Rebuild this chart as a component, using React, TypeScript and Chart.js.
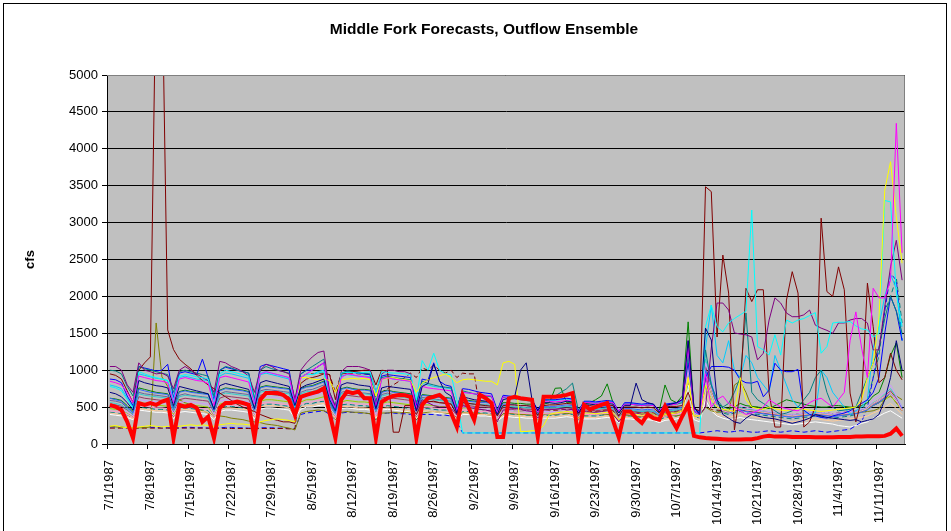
import React, { useEffect, useRef } from 'react';
import { Chart, registerables } from 'chart.js';

Chart.register(...registerables);

const FONT = "'Liberation Sans', Arial, sans-serif";
const TITLE = 'Middle Fork Forecasts, Outflow Ensemble';

// 138 daily categories, 7/1/1987 .. 11/15/1987
const dates: string[] = (() => {
  const out: string[] = [];
  const d = new Date(Date.UTC(1987, 6, 1));
  for (let i = 0; i < 138; i++) {
    out.push(`${d.getUTCMonth() + 1}/${d.getUTCDate()}/${d.getUTCFullYear()}`);
    d.setUTCDate(d.getUTCDate() + 1);
  }
  return out;
})();

const yTicks = [0, 500, 1000, 1500, 2000, 2500, 3000, 3500, 4000, 4500, 5000];

const observed = [
  530, 505, 460, 300, 80, 555, 530,
  555, 530, 575, 600, 80, 530, 505,
  530, 490, 300, 370, 80, 490, 555,
  555, 575, 555, 530, 80, 600, 690,
  690, 690, 665, 600, 390, 640, 665,
  690, 710, 755, 420, 80, 600, 710,
  690, 710, 620, 620, 80, 570, 620,
  650, 665, 660, 640, 80, 530, 620,
  640, 665, 600, 420, 230, 665, 500,
  325, 665, 620, 555, 95, 95, 620,
  640, 620, 610, 600, 95, 640, 640,
  640, 650, 665, 690, 80, 530, 470,
  500, 530, 555, 320, 90, 440, 440,
  350, 285, 400, 350, 330, 510, 350,
  215, 380, 530, 110, 90, 80, 75,
  70, 65, 60, 60, 60, 65, 65,
  80, 100, 110, 100, 100, 100, 95,
  95, 95, 95, 90, 90, 90, 90,
  95, 95, 95, 100, 100, 105, 105,
  105, 110, 140, 210, 110,
];

const navySeries = [
  700, 680, 640, 560, 460, 860, 830,
  810, 790, 780, 760, 520, 780, 760,
  740, 720, 700, 680, 470, 790, 820,
  800, 780, 760, 740, 480, 830, 860,
  840, 820, 800, 780, 520, 760, 800,
  820, 850, 880, 600, 450, 800, 830,
  820, 800, 790, 780, 480, 760, 780,
  770, 760, 750, 740, 450, 780, 820,
  1080, 860, 700, 650, 420, 640, 620,
  600, 590, 580, 560, 400, 600, 620,
  640, 1000, 1100, 600, 450, 560, 560,
  550, 560, 580, 570, 420, 540, 540,
  530, 540, 550, 540, 420, 520, 520,
  825, 600, 560, 540, 430, 520, 540,
  560, 600, 1400, 500, 400, 1570, 1410,
  600, 400, 350, 300, 280, 350, 400,
  380, 360, 350, 340, 320, 300, 280,
  300, 320, 350, 400, 380, 360, 350,
  340, 330, 320, 330, 300, 320, 340,
  400, 600, 900, 1400, 1000,
];

const magentaSeries = [
  850, 830, 800, 700, 560, 920, 900,
  880, 860, 850, 830, 560, 880, 900,
  880, 860, 850, 820, 520, 900, 920,
  900, 880, 860, 840, 540, 950, 980,
  960, 940, 920, 900, 560, 900, 950,
  1000, 1050, 1100, 650, 480, 900, 950,
  940, 920, 910, 900, 500, 880, 900,
  880, 870, 860, 850, 480, 780, 760,
  750, 740, 730, 720, 450, 700, 690,
  680, 670, 660, 650, 420, 640, 630,
  620, 610, 600, 600, 430, 580, 580,
  570, 580, 590, 580, 430, 560, 560,
  550, 560, 570, 560, 440, 540, 540,
  530, 520, 530, 520, 450, 520, 530,
  540, 600, 1300, 450, 400, 950, 500,
  600, 650, 550, 500, 450, 400, 420,
  450, 500, 600, 550, 500, 480, 460,
  450, 500, 560, 600, 620, 560, 500,
  600, 700, 1400, 1790, 1300, 900, 2110,
  1980, 1980, 2220, 4345, 2590,
];

const yellowSeries = [
  240, 250, 230, 220, 220, 230, 240,
  250, 240, 230, 240, 230, 240, 250,
  260, 250, 260, 250, 240, 260, 270,
  280, 270, 270, 260, 250, 300, 320,
  330, 340, 330, 320, 300, 900, 900,
  880, 870, 880, 860, 700, 870, 880,
  890, 880, 890, 870, 650, 880, 890,
  900, 880, 870, 860, 700, 820, 870,
  900, 920, 950, 900, 830, 870, 880,
  870, 860, 850, 850, 800, 1100, 1120,
  1080, 170, 170, 180, 180, 250, 400,
  420, 430, 440, 430, 350, 420, 420,
  410, 420, 430, 420, 330, 410, 410,
  400, 390, 400, 390, 350, 400, 410,
  420, 450, 900, 380, 380, 800, 600,
  500, 470, 460, 440, 900, 600, 500,
  480, 470, 500, 480, 460, 450, 470,
  480, 470, 460, 450, 440, 450, 460,
  470, 480, 490, 500, 600, 900, 1100,
  1700, 3440, 3825, 3080, 2450,
];

const cyanSeries = [
  780, 760, 720, 600, 480, 980, 950,
  920, 900, 880, 860, 600, 920, 940,
  930, 910, 900, 880, 560, 950, 1000,
  980, 960, 940, 920, 560, 960, 980,
  960, 940, 920, 900, 500, 900, 950,
  940, 960, 980, 620, 450, 960, 970,
  970, 960, 970, 980, 700, 980, 970,
  960, 960, 950, 940, 600, 1130, 1000,
  1230, 1000, 950, 940, 600, 150, 150,
  150, 150, 150, 150, 150, 150, 150,
  150, 150, 150, 150, 150, 150, 150,
  150, 150, 150, 150, 150, 150, 150,
  150, 150, 150, 150, 150, 150, 150,
  150, 150, 150, 150, 150, 150, 150,
  150, 150, 150, 150, 150, 1590, 1880,
  1590, 1520, 1640, 1700, 1750, 1800, 3170,
  1320, 1275, 1205, 1480, 1205, 1680, 1640,
  1680, 1700, 1740, 1780, 1230, 1320, 1640,
  1650, 1650, 1660, 1600, 1560, 1545, 1450,
  1500, 3300, 3280, 2045, 1590,
];

const purpleSeries = [
  1050, 1050, 1000, 800, 700, 1100, 1000,
  980, 950, 960, 920, 750, 1000, 1050,
  1000, 950, 900, 860, 700, 1120, 1100,
  1050, 1020, 980, 920, 700, 1000, 1080,
  1050, 1000, 980, 950, 600, 1000, 1100,
  1180, 1240, 1260, 700, 500, 980, 1050,
  1050, 1050, 1030, 1000, 700, 950, 1000,
  1000, 980, 980, 950, 450, 600, 560,
  520, 500, 500, 480, 400, 520, 500,
  480, 470, 460, 440, 300, 460, 470,
  480, 470, 450, 440, 350, 460, 470,
  470, 480, 460, 470, 350, 440, 430,
  430, 440, 450, 420, 300, 400, 410,
  420, 400, 410, 390, 350, 400, 410,
  420, 450, 1400, 500, 400, 500, 1300,
  1910, 1910, 1815, 1505, 1490, 1480, 1450,
  1140, 1230, 1680, 1980, 1910, 1775, 1725,
  1725, 1750, 1815, 1610, 1570, 1540, 1500,
  1640, 1640, 1680, 1700, 1700, 1640, 1275,
  1275, 1860, 2400, 2760, 2220,
];

const maroonSeries = [
  950, 930, 880, 720, 560, 1000, 1100,
  1180, 6500, 6500, 1545, 1280, 1150, 1080,
  1020, 930, 860, 800, 750, 690, 640,
  590, 540, 500, 470, 440, 400, 370,
  340, 320, 300, 300, 280, 820, 880,
  900, 920, 950, 940, 600, 950, 960,
  980, 990, 1000, 1000, 800, 1000, 990,
  160, 160, 520, 520, 400, 560, 570,
  580, 560, 550, 540, 400, 560, 550,
  540, 530, 520, 510, 380, 520, 530,
  530, 520, 520, 510, 390, 520, 530,
  530, 540, 550, 540, 400, 520, 520,
  510, 520, 530, 520, 380, 500, 500,
  500, 490, 500, 490, 420, 500, 510,
  510, 520, 700, 480, 450, 3485, 3420,
  1450, 2560, 2045, 190, 700, 2110, 1930,
  2090, 2090, 690, 230, 230, 1950, 2335,
  2045, 230, 300, 500, 3060, 2065, 2000,
  2400, 2090, 690, 300, 600, 2180, 1590,
  830, 900, 1230, 1000, 870,
];

const tealSeries = [
  1000, 990, 950, 780, 650, 1050, 1020,
  1000, 980, 960, 940, 700, 980, 1000,
  980, 960, 940, 920, 650, 1000, 1050,
  1030, 1000, 980, 960, 620, 1000, 1050,
  1020, 1000, 980, 960, 600, 950, 1000,
  1050, 1100, 1150, 700, 520, 960, 990,
  980, 970, 960, 950, 560, 900, 920,
  900, 890, 880, 870, 560, 850, 820,
  800, 780, 770, 760, 500, 720, 700,
  680, 660, 650, 640, 450, 630, 620,
  610, 600, 590, 580, 440, 580, 600,
  650, 700, 750, 825, 460, 560, 560,
  550, 560, 570, 560, 420, 540, 540,
  530, 520, 530, 520, 440, 520, 530,
  540, 560, 1200, 450, 400, 1275, 800,
  600, 500, 550, 700, 900, 1775, 700,
  600, 550, 500, 450, 400, 420, 450,
  500, 600, 700, 900, 1000, 700, 500,
  450, 460, 470, 500, 700, 900, 1100,
  1300, 1700, 2000, 1800, 1500,
];

const blueSeries = [
  880, 870, 830, 650, 520, 1050, 1030,
  1010, 990, 1000, 1080, 620, 960, 980,
  960, 940, 1150, 900, 600, 1000, 1040,
  1020, 1000, 980, 960, 580, 1050, 1080,
  1060, 1040, 1020, 1000, 550, 950, 1000,
  1000, 1050, 1100, 650, 480, 950, 980,
  970, 960, 950, 940, 520, 920, 940,
  930, 920, 910, 900, 520, 880, 860,
  1100, 850, 800, 780, 480, 750, 740,
  720, 700, 690, 680, 460, 660, 650,
  640, 620, 610, 600, 460, 600, 600,
  600, 610, 620, 610, 450, 580, 580,
  570, 580, 590, 580, 440, 560, 560,
  550, 540, 550, 540, 450, 540, 550,
  560, 600, 1100, 500, 420, 900, 1050,
  1050, 1050, 1040, 1000, 870, 830, 825,
  850, 640, 730, 1095, 1000, 980, 980,
  1010, 460, 400, 380, 360, 350, 380,
  400, 420, 450, 500, 550, 600, 700,
  900, 1500, 2000, 1800, 1400,
];

const skySeries = [
  800, 780, 750, 620, 500, 950, 930,
  910, 890, 880, 860, 580, 900, 920,
  900, 880, 870, 860, 560, 920, 960,
  950, 930, 910, 890, 560, 940, 960,
  940, 920, 900, 880, 540, 900, 950,
  940, 980, 1000, 620, 460, 920, 940,
  930, 920, 920, 910, 520, 880, 900,
  880, 870, 860, 850, 520, 820, 800,
  780, 770, 760, 750, 480, 700, 690,
  680, 670, 660, 650, 450, 640, 640,
  630, 620, 610, 600, 450, 590, 590,
  590, 600, 610, 600, 440, 570, 570,
  560, 570, 580, 570, 430, 550, 550,
  540, 530, 540, 530, 440, 530, 540,
  550, 580, 1250, 460, 420, 1300, 1880,
  1200, 1100, 1400, 1000, 900, 1200, 1100,
  900, 800, 700, 1200, 1000, 800, 600,
  500, 450, 400, 420, 1000, 900, 700,
  600, 500, 400, 450, 500, 600, 1300,
  1600, 2000, 2300, 2100, 1400,
];

const lavenderSeries = [
  500, 490, 470, 430, 380, 600, 590,
  580, 570, 560, 550, 420, 560, 580,
  570, 560, 550, 540, 400, 580, 600,
  600, 590, 580, 570, 410, 620, 640,
  640, 630, 620, 610, 420, 600, 640,
  650, 680, 700, 500, 380, 600, 620,
  610, 600, 600, 590, 400, 580, 600,
  590, 580, 570, 560, 400, 560, 550,
  540, 530, 520, 510, 380, 500, 500,
  490, 480, 470, 460, 360, 460, 460,
  450, 450, 440, 440, 360, 440, 440,
  440, 450, 460, 450, 360, 430, 430,
  420, 430, 440, 430, 350, 420, 420,
  410, 400, 410, 400, 360, 400, 410,
  420, 450, 1000, 420, 380, 1100, 900,
  600, 500, 450, 480, 520, 500, 480,
  460, 450, 440, 430, 420, 410, 400,
  410, 420, 430, 440, 430, 420, 410,
  420, 430, 440, 450, 470, 500, 600,
  650, 700, 800, 650, 500,
];

const roseSeries = [
  450, 440, 430, 400, 360, 520, 510,
  500, 490, 490, 480, 380, 500, 510,
  500, 490, 480, 470, 370, 510, 530,
  530, 520, 510, 500, 380, 540, 560,
  560, 550, 540, 530, 400, 540, 570,
  570, 590, 600, 450, 360, 550, 560,
  550, 540, 540, 530, 380, 520, 540,
  530, 520, 510, 500, 380, 500, 500,
  490, 480, 480, 470, 360, 460, 460,
  450, 440, 440, 430, 340, 430, 430,
  420, 420, 410, 410, 340, 410, 410,
  410, 420, 430, 420, 340, 400, 400,
  400, 410, 420, 410, 330, 400, 400,
  390, 380, 390, 380, 340, 380, 390,
  400, 420, 1100, 400, 360, 950, 700,
  500, 450, 430, 460, 480, 460, 450,
  440, 430, 420, 410, 400, 390, 380,
  390, 400, 410, 420, 410, 400, 390,
  400, 410, 420, 430, 450, 480, 550,
  600, 650, 700, 600, 450,
];

const tanSeries = [
  420, 410, 400, 380, 340, 480, 470,
  460, 450, 450, 440, 360, 460, 470,
  460, 450, 440, 430, 350, 470, 490,
  490, 480, 470, 460, 360, 500, 520,
  520, 510, 500, 490, 380, 500, 520,
  520, 540, 550, 420, 340, 500, 510,
  500, 490, 490, 480, 360, 480, 490,
  480, 470, 460, 450, 360, 450, 450,
  440, 430, 430, 420, 340, 420, 420,
  410, 400, 400, 390, 320, 390, 390,
  380, 380, 370, 370, 320, 370, 370,
  370, 380, 390, 380, 320, 360, 360,
  360, 370, 380, 370, 310, 360, 360,
  350, 340, 350, 340, 310, 340, 350,
  360, 380, 900, 360, 330, 700, 500,
  400, 380, 360, 380, 400, 380, 370,
  360, 350, 340, 330, 320, 310, 300,
  310, 320, 330, 340, 330, 320, 310,
  320, 330, 340, 350, 360, 380, 420,
  450, 500, 550, 480, 400,
];

const royalSeries = [
  620, 600, 580, 500, 420, 740, 720,
  700, 690, 680, 670, 480, 700, 720,
  700, 690, 680, 670, 460, 720, 750,
  740, 730, 720, 700, 470, 760, 780,
  770, 760, 750, 740, 480, 740, 770,
  780, 810, 840, 560, 420, 740, 760,
  740, 730, 730, 720, 460, 700, 720,
  700, 690, 680, 670, 460, 660, 650,
  640, 630, 620, 610, 430, 590, 580,
  570, 560, 560, 550, 410, 540, 540,
  530, 520, 520, 510, 410, 510, 510,
  510, 520, 530, 520, 400, 500, 500,
  490, 500, 510, 500, 390, 480, 480,
  470, 460, 470, 460, 400, 460, 470,
  480, 500, 1150, 440, 400, 1000, 800,
  500, 450, 420, 440, 460, 440, 430,
  420, 410, 400, 390, 380, 370, 360,
  370, 380, 390, 400, 390, 380, 370,
  380, 390, 400, 410, 430, 460, 520,
  560, 620, 700, 600, 480,
];

const aquaSeries = [
  560, 550, 530, 470, 400, 680, 660,
  650, 640, 630, 620, 450, 640, 660,
  650, 640, 630, 620, 440, 660, 690,
  680, 670, 660, 650, 450, 700, 720,
  710, 700, 690, 680, 460, 680, 710,
  710, 740, 770, 530, 400, 680, 700,
  690, 680, 680, 670, 440, 650, 670,
  650, 640, 630, 620, 440, 610, 600,
  600, 590, 580, 570, 410, 560, 550,
  540, 530, 530, 520, 400, 510, 510,
  500, 500, 490, 490, 390, 490, 490,
  490, 500, 510, 500, 390, 480, 480,
  470, 480, 490, 480, 380, 460, 460,
  450, 440, 450, 440, 390, 440, 450,
  460, 480, 1050, 420, 390, 1150, 850,
  550, 480, 450, 470, 500, 470, 460,
  450, 440, 430, 420, 410, 400, 390,
  400, 410, 420, 430, 420, 410, 400,
  410, 420, 430, 440, 460, 490, 560,
  600, 680, 750, 640, 500,
];

const limeSeries = [
  480, 470, 460, 420, 370, 560, 550,
  540, 530, 520, 510, 400, 530, 540,
  530, 520, 510, 500, 390, 540, 560,
  560, 550, 540, 530, 400, 580, 600,
  600, 590, 580, 570, 410, 570, 600,
  600, 620, 640, 470, 370, 570, 590,
  580, 570, 570, 560, 390, 550, 570,
  560, 550, 540, 530, 390, 530, 530,
  520, 510, 510, 500, 370, 490, 490,
  480, 470, 470, 460, 360, 460, 460,
  450, 450, 440, 440, 360, 440, 440,
  440, 450, 460, 450, 360, 430, 430,
  430, 440, 450, 440, 350, 430, 430,
  420, 410, 420, 410, 360, 410, 420,
  430, 450, 950, 410, 380, 900, 700,
  500, 460, 440, 460, 480, 460, 450,
  440, 430, 420, 410, 400, 390, 380,
  390, 400, 410, 420, 410, 400, 390,
  400, 410, 420, 430, 450, 470, 520,
  560, 600, 650, 560, 450,
];

const greenSeries = [
  620, 610, 590, 520, 440, 760, 740,
  720, 700, 690, 680, 490, 710, 730,
  710, 700, 690, 680, 470, 730, 760,
  750, 740, 730, 710, 480, 770, 790,
  780, 770, 760, 750, 490, 750, 780,
  790, 820, 850, 570, 430, 750, 770,
  750, 740, 740, 730, 470, 710, 730,
  710, 700, 690, 680, 470, 670, 660,
  650, 640, 630, 620, 440, 600, 590,
  580, 570, 570, 560, 420, 560, 560,
  550, 550, 540, 540, 420, 540, 560,
  755, 760, 560, 560, 420, 540, 560,
  600, 650, 815, 560, 420, 540, 540,
  530, 520, 530, 520, 450, 800, 600,
  560, 650, 1655, 450, 420, 900, 700,
  550, 500, 480, 500, 550, 520, 510,
  500, 490, 480, 520, 560, 600, 580,
  560, 540, 520, 510, 500, 500, 520,
  520, 510, 500, 500, 520, 560, 650,
  700, 900, 1200, 1370, 900,
];

const oliveSeries = [
  240, 230, 230, 220, 220, 220, 220,
  230, 1640, 910, 780, 640, 600, 560,
  530, 480, 450, 420, 390, 380, 370,
  350, 340, 330, 310, 300, 290, 270,
  260, 250, 230, 215, 190, 420, 440,
  450, 460, 450, 420, 330, 430, 440,
  430, 430, 420, 410, 330, 420, 420,
  430, 420, 430, 420, 330, 420, 430,
  440, 430, 420, 410, 350, 430, 420,
  420, 410, 400, 390, 320, 410, 420,
  410, 400, 400, 390, 330, 400, 410,
  400, 420, 410, 420, 340, 390, 400,
  400, 410, 400, 390, 320, 390, 390,
  380, 370, 380, 370, 340, 380, 390,
  380, 400, 500, 380, 380, 500, 450,
  430, 440, 420, 800, 850, 700, 500,
  500, 450, 430, 420, 420, 400, 390,
  380, 380, 400, 390, 380, 400, 410,
  400, 390, 400, 420, 430, 440, 450,
  480, 600, 700, 650, 600,
];

const plumSeries = [
  540, 530, 510, 460, 400, 640, 620,
  610, 600, 590, 580, 440, 600, 620,
  610, 600, 590, 580, 430, 620, 650,
  640, 630, 620, 610, 440, 660, 680,
  670, 660, 650, 640, 450, 640, 670,
  670, 700, 720, 510, 400, 640, 660,
  650, 640, 640, 630, 430, 620, 640,
  620, 610, 600, 590, 430, 580, 580,
  570, 560, 560, 550, 400, 530, 520,
  510, 500, 500, 490, 390, 490, 490,
  480, 480, 470, 470, 380, 470, 470,
  470, 480, 490, 480, 380, 460, 460,
  450, 460, 470, 460, 370, 450, 450,
  440, 430, 440, 430, 380, 430, 440,
  450, 470, 1000, 420, 390, 1050, 800,
  550, 480, 450, 470, 490, 470, 460,
  450, 440, 430, 420, 410, 400, 390,
  400, 410, 420, 430, 420, 410, 400,
  410, 420, 430, 440, 460, 490, 550,
  600, 650, 720, 620, 480,
];

const maroonDashSeries = [
  215, 215, 215, 215, 210, 215, 215,
  215, 215, 215, 215, 215, 215, 215,
  215, 215, 215, 215, 210, 215, 210,
  210, 210, 210, 210, 205, 210, 210,
  210, 210, 210, 205, 205, 900, 950,
  950, 960, 960, 940, 700, 950, 960,
  960, 950, 950, 940, 600, 700, 750,
  800, 850, 900, 960, 900, 1030, 1000,
  1070, 1000, 960, 1000, 900, 960, 950,
  950, 470, 460, 450, 350, 450, 460,
  460, 450, 450, 440, 350, 440, 450,
  450, 460, 470, 460, 360, 440, 440,
  440, 450, 460, 450, 350, 440, 440,
  430, 420, 430, 420, 370, 420, 430,
  440, 460, 900, 430, 400, 500, 470,
  460, 450, 440, 450, 460, 450, 440,
  430, 420, 420, 410, 410, 400, 400,
  410, 420, 430, 440, 430, 420, 410,
  420, 430, 440, 450, 460, 480, 520,
  560, 600, 650, 560, 450,
];

const blueDashSeries = [
  230, 230, 225, 220, 215, 225, 225,
  225, 225, 220, 220, 215, 220, 225,
  225, 220, 220, 215, 210, 220, 225,
  225, 220, 220, 215, 210, 220, 220,
  220, 215, 215, 210, 210, 400, 420,
  430, 440, 450, 400, 330, 420, 430,
  430, 420, 420, 410, 330, 410, 420,
  420, 410, 410, 400, 330, 400, 400,
  400, 390, 390, 380, 300, 150, 150,
  150, 150, 150, 150, 150, 150, 150,
  150, 150, 150, 150, 150, 150, 150,
  150, 150, 150, 150, 150, 150, 150,
  150, 150, 150, 150, 150, 150, 150,
  150, 150, 150, 150, 150, 150, 150,
  150, 150, 150, 150, 150, 160, 170,
  180, 170, 160, 170, 180, 170, 160,
  160, 170, 180, 170, 160, 170, 180,
  170, 160, 170, 180, 170, 160, 170,
  180, 190, 200, 250, 300, 500, 900,
  1300, 1800, 2310, 2220, 1410,
];

const tealDashSeries = [
  430, 420, 410, 390, 350, 500, 490,
  480, 470, 470, 460, 370, 480, 490,
  480, 470, 460, 450, 360, 490, 510,
  510, 500, 490, 480, 370, 520, 540,
  540, 530, 520, 510, 390, 520, 550,
  550, 570, 580, 440, 350, 530, 540,
  530, 520, 520, 510, 370, 500, 520,
  510, 500, 490, 480, 370, 480, 480,
  470, 460, 460, 450, 350, 440, 440,
  430, 420, 420, 410, 330, 410, 410,
  400, 400, 390, 390, 330, 390, 390,
  390, 400, 410, 400, 330, 380, 380,
  380, 390, 400, 390, 320, 380, 380,
  370, 360, 370, 360, 330, 360, 370,
  380, 400, 850, 380, 350, 800, 600,
  450, 420, 400, 420, 440, 420, 410,
  400, 390, 380, 370, 360, 350, 340,
  350, 360, 370, 380, 370, 360, 350,
  360, 370, 380, 400, 450, 600, 900,
  1200, 1800, 2000, 2250, 1640,
];

const whiteSeries = [
  400, 390, 380, 360, 330, 460, 450,
  440, 430, 430, 420, 340, 430, 440,
  430, 420, 410, 400, 330, 440, 460,
  460, 450, 440, 430, 340, 470, 490,
  490, 480, 470, 460, 350, 470, 500,
  500, 520, 530, 410, 330, 480, 490,
  480, 470, 470, 460, 340, 460, 470,
  460, 450, 440, 430, 340, 430, 430,
  420, 410, 410, 400, 320, 400, 400,
  390, 380, 380, 370, 310, 370, 370,
  360, 360, 350, 350, 300, 350, 350,
  350, 360, 370, 360, 300, 340, 340,
  340, 350, 360, 350, 290, 340, 340,
  330, 320, 330, 320, 290, 320, 330,
  340, 360, 800, 330, 300, 600, 450,
  380, 350, 330, 340, 360, 340, 330,
  320, 310, 300, 290, 280, 270, 260,
  270, 280, 290, 300, 290, 280, 270,
  250, 240, 230, 250, 280, 300, 350,
  380, 420, 450, 400, 350,
];

const slateSeries = [
  590, 580, 560, 490, 420, 700, 680,
  670, 660, 650, 640, 460, 660, 680,
  660, 650, 640, 630, 450, 680, 710,
  700, 690, 680, 670, 460, 720, 740,
  730, 720, 710, 700, 470, 700, 730,
  740, 770, 800, 540, 410, 700, 720,
  700, 690, 690, 680, 450, 670, 690,
  670, 660, 650, 640, 450, 630, 620,
  610, 600, 590, 580, 420, 560, 550,
  540, 530, 530, 520, 400, 510, 510,
  500, 500, 490, 490, 390, 490, 490,
  490, 500, 510, 500, 390, 480, 480,
  470, 480, 490, 480, 380, 460, 460,
  450, 440, 450, 440, 390, 440, 450,
  460, 480, 1100, 430, 400, 1000, 700,
  500, 450, 430, 450, 470, 450, 440,
  430, 420, 410, 400, 390, 380, 370,
  380, 390, 400, 410, 400, 390, 380,
  390, 400, 410, 420, 440, 470, 530,
  570, 630, 700, 600, 480,
];

const ensemble = [
  { name: 'Trace 1', data: navySeries, color: '#000080', dash: [] as number[] },
  { name: 'Trace 2', data: magentaSeries, color: '#FF00FF', dash: [] },
  { name: 'Trace 3', data: yellowSeries, color: '#FFFF00', dash: [] },
  { name: 'Trace 4', data: cyanSeries, color: '#00FFFF', dash: [] },
  { name: 'Trace 5', data: purpleSeries, color: '#800080', dash: [] },
  { name: 'Trace 6', data: maroonSeries, color: '#800000', dash: [] },
  { name: 'Trace 7', data: tealSeries, color: '#008080', dash: [] },
  { name: 'Trace 8', data: blueSeries, color: '#0000FF', dash: [] },
  { name: 'Trace 9', data: skySeries, color: '#00CCFF', dash: [] },
  { name: 'Trace 10', data: lavenderSeries, color: '#CC99FF', dash: [] },
  { name: 'Trace 11', data: roseSeries, color: '#FF99CC', dash: [] },
  { name: 'Trace 12', data: tanSeries, color: '#FFCC99', dash: [] },
  { name: 'Trace 13', data: royalSeries, color: '#3366FF', dash: [] },
  { name: 'Trace 14', data: aquaSeries, color: '#33CCCC', dash: [] },
  { name: 'Trace 15', data: limeSeries, color: '#99CC00', dash: [] },
  { name: 'Trace 16', data: greenSeries, color: '#008000', dash: [] },
  { name: 'Trace 17', data: oliveSeries, color: '#808000', dash: [] },
  { name: 'Trace 18', data: plumSeries, color: '#993366', dash: [] },
  { name: 'Trace 19', data: maroonDashSeries, color: '#800000', dash: [5, 3] },
  { name: 'Trace 20', data: blueDashSeries, color: '#0000FF', dash: [5, 3] },
  { name: 'Trace 21', data: tealDashSeries, color: '#008080', dash: [5, 3] },
  { name: 'Trace 22', data: whiteSeries, color: '#FFFFFF', dash: [] },
  { name: 'Trace 23', data: slateSeries, color: '#666699', dash: [] },
];

const plotFrame = {
  id: 'plotFrame',
  beforeDraw(chart: any) {
    const { ctx, chartArea: a } = chart;
    ctx.save();
    ctx.fillStyle = '#C0C0C0';
    ctx.fillRect(a.left, a.top, a.right - a.left, a.bottom - a.top);
    ctx.restore();
  },
  afterDraw(chart: any) {
    const { ctx, chartArea: a } = chart;
    ctx.save();
    // plot area border (top / right)
    ctx.strokeStyle = '#808080';
    ctx.lineWidth = 1;
    ctx.beginPath();
    ctx.moveTo(a.left, a.top + 0.5);
    ctx.lineTo(a.right - 0.5, a.top + 0.5);
    ctx.lineTo(a.right - 0.5, a.bottom);
    ctx.stroke();
    // weekly tick marks on the category axis
    const xs = chart.scales.x;
    const n = dates.length;
    const w = (xs.right - xs.left) / n;
    ctx.strokeStyle = '#000';
    ctx.beginPath();
    for (let i = 0; i < n; i += 7) {
      const x = Math.round(xs.left + i * w) + 0.5;
      ctx.moveTo(x, a.bottom);
      ctx.lineTo(x, a.bottom + 5);
    }
    ctx.stroke();
    // chart title
    ctx.fillStyle = '#000';
    ctx.font = `bold 15.5px ${FONT}`;
    ctx.textAlign = 'center';
    ctx.textBaseline = 'middle';
    ctx.fillText(TITLE, 484, 30);
    ctx.restore();
  },
};

export default function App() {
  const ref = useRef<HTMLCanvasElement | null>(null);

  useEffect(() => {
    if (!ref.current) return;
    const datasets: any[] = [
      {
        label: 'Observed',
        data: observed,
        borderColor: '#FF0000',
        backgroundColor: '#FF0000',
        borderWidth: 4,
        pointRadius: 0,
        tension: 0,
      },
      ...ensemble.map((s) => ({
        label: s.name,
        data: s.data,
        borderColor: s.color,
        backgroundColor: s.color,
        borderWidth: 1,
        borderDash: s.dash,
        pointRadius: 0,
        tension: 0,
      })),
    ];
    const chart = new Chart(ref.current, {
      type: 'line',
      data: { labels: dates, datasets },
      plugins: [plotFrame],
      options: {
        responsive: false,
        animation: false,
        layout: { padding: { left: 0, right: 46, top: 75, bottom: 0 } },
        plugins: {
          legend: { display: false },
          tooltip: { enabled: false },
          title: { display: false },
        },
        scales: {
          x: {
            type: 'category',
            offset: true,
            grid: { display: false },
            border: { display: true, color: '#000000' },
            ticks: {
              autoSkip: false,
              maxRotation: 90,
              minRotation: 90,
              padding: 8,
              color: '#000',
              font: { family: FONT, size: 13 },
              callback: (_v: any, i: number) => (i % 7 === 0 ? dates[i] : null),
            },
            afterFit: (s: any) => {
              s.height = 87;
            },
          },
          y: {
            min: yTicks[0],
            max: yTicks[yTicks.length - 1],
            ticks: {
              stepSize: 500,
              color: '#000',
              padding: 4,
              font: { family: FONT, size: 13 },
              callback: (v: any) => String(v),
            },
            grid: { color: '#000000', lineWidth: 1, tickLength: 5 },
            border: { display: true, color: '#000000' },
            title: {
              display: true,
              text: 'cfs',
              color: '#000',
              font: { family: FONT, size: 13, weight: 'bold' },
              padding: { top: 23, bottom: 0 },
            },
            afterFit: (s: any) => {
              s.width = 107;
            },
          },
        },
      } as any,
    });
    return () => chart.destroy();
  }, []);

  return (
    <div style={{ position: 'absolute', left: 0, top: 0, width: 951, height: 531, overflow: 'hidden', background: '#fff' }}>
      <canvas ref={ref} width={951} height={531} style={{ display: 'block' }} />
      <div
        style={{
          position: 'absolute',
          left: 3,
          top: 3,
          width: 942,
          height: 560,
          border: '1px solid #000',
          pointerEvents: 'none',
        }}
      />
    </div>
  );
}
